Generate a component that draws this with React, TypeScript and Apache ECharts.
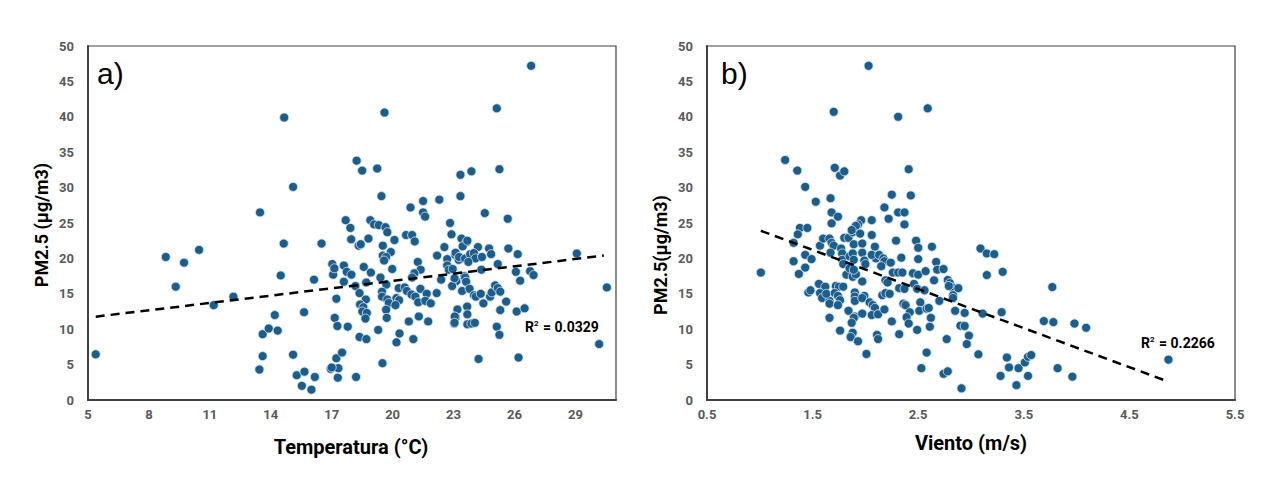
import React, { useEffect, useRef } from "react";
import * as echarts from "echarts";

const tempX = [5.38, 8.83, 9.32, 9.73, 10.47, 11.19, 12.16, 13.44, 13.6, 13.6, 13.9, 14.2, 14.34, 14.49, 14.64, 15.1, 15.28, 15.53, 15.64, 15.66, 16.0, 16.13, 16.17, 16.5, 16.95, 17.03, 17.07, 17.13, 17.15, 17.23, 17.28, 17.23, 17.3, 17.33, 17.51, 14.66, 15.1, 13.47, 19.6, 25.13, 18.23, 18.5, 19.24, 23.34, 23.88, 25.26, 19.45, 23.34, 20.88, 21.5, 22.3, 21.5, 21.6, 24.54, 25.67, 17.69, 17.92, 18.9, 19.09, 19.32, 19.65, 19.74, 17.96, 18.33, 18.43, 18.81, 20.09, 20.66, 20.96, 21.09, 19.52, 19.91, 19.52, 19.68, 19.58, 17.6, 17.74, 17.97, 17.6, 18.58, 18.93, 19.98, 19.4, 18.7, 18.17, 19.69, 21.24, 21.38, 21.07, 20.96, 22.19, 22.55, 22.69, 22.69, 22.77, 23.08, 23.25, 23.39, 23.64, 23.45, 23.62, 22.96, 23.14, 22.39, 22.93, 23.54, 23.42, 18.37, 18.68, 18.4, 18.56, 18.51, 18.73, 18.66, 19.48, 19.48, 19.74, 19.81, 19.68, 19.71, 20.19, 20.32, 20.14, 20.3, 20.6, 20.7, 20.93, 21.12, 21.26, 21.37, 21.68, 21.61, 21.88, 22.17, 21.29, 20.8, 21.75, 23.19, 23.1, 23.03, 23.67, 23.68, 23.68, 17.79, 19.29, 18.37, 18.71, 20.34, 20.19, 21.02, 19.5, 17.0, 18.2, 22.83, 22.9, 23.68, 24.2, 24.75, 24.85, 25.7, 26.16, 29.07, 30.55, 30.17, 23.1, 23.27, 23.57, 23.82, 24.0, 24.08, 24.4, 23.73, 25.18, 24.37, 26.07, 26.77, 26.94, 26.28, 23.05, 23.57, 23.62, 23.79, 24.01, 24.1, 24.34, 24.8, 24.88, 25.05, 25.18, 25.3, 24.47, 25.59, 25.3, 26.11, 26.5, 23.06, 23.05, 23.88, 24.05, 25.13, 25.26, 24.23, 26.2, 26.82];
const tempPM = [6.45, 20.2, 16.0, 19.4, 21.2, 13.4, 14.6, 4.3, 9.3, 6.2, 10.1, 12.0, 9.8, 17.6, 22.1, 6.4, 3.5, 2.0, 12.4, 4.0, 1.46, 17.0, 3.25, 22.1, 4.4, 19.2, 17.7, 18.6, 11.6, 14.3, 10.45, 5.9, 3.15, 4.5, 6.7, 39.9, 30.1, 26.5, 40.6, 41.2, 33.8, 32.4, 32.7, 31.8, 32.3, 32.6, 28.8, 28.8, 27.2, 28.1, 28.3, 26.5, 25.9, 26.4, 25.6, 25.4, 24.3, 25.4, 24.8, 24.7, 24.4, 23.7, 22.7, 21.8, 22.0, 22.8, 22.6, 23.3, 23.3, 22.4, 21.8, 20.9, 20.4, 20.2, 19.7, 19.0, 18.1, 17.7, 16.7, 18.8, 18.0, 18.5, 17.3, 16.6, 16.1, 16.3, 19.5, 18.4, 17.9, 17.3, 20.4, 21.6, 19.9, 19.0, 18.4, 20.5, 19.8, 22.8, 22.3, 21.7, 19.9, 18.5, 16.8, 17.0, 16.1, 17.5, 15.4, 15.1, 14.2, 13.5, 13.1, 12.5, 12.3, 11.5, 15.3, 14.6, 14.2, 13.7, 12.75, 11.6, 14.4, 14.1, 13.4, 15.8, 15.9, 15.4, 14.9, 14.6, 13.8, 15.7, 15.0, 14.0, 13.65, 15.1, 11.8, 11.1, 11.1, 12.8, 11.7, 10.8, 13.2, 12.1, 10.7, 10.35, 9.9, 8.9, 8.6, 9.4, 8.15, 8.6, 5.2, 4.6, 3.25, 25.0, 23.4, 22.5, 21.6, 21.4, 20.6, 21.4, 20.6, 20.7, 15.9, 7.9, 20.8, 20.2, 20.0, 20.6, 20.75, 20.0, 20.2, 19.5, 19.2, 18.4, 18.1, 18.2, 17.65, 16.85, 17.2, 17.3, 16.7, 15.7, 14.8, 14.6, 15.0, 14.6, 15.2, 16.2, 15.8, 15.3, 13.65, 13.9, 12.7, 12.5, 12.95, 11.8, 10.9, 10.8, 10.9, 10.35, 9.2, 5.8, 6.0, 47.2];

const windX = [2.03, 1.70, 2.59, 2.31, 1.24, 1.355, 1.71, 1.76, 1.80, 2.41, 1.43, 1.53, 1.67, 2.25, 2.43, 2.18, 1.68, 1.74, 2.22, 2.31, 2.37, 2.37, 1.96, 2.06, 1.93, 1.68, 1.38, 1.45, 1.36, 1.32, 1.32, 1.37, 1.43, 1.43, 1.49, 1.46, 1.48, 1.57, 1.60, 1.66, 1.68, 1.70, 1.67, 1.77, 1.78, 1.78, 1.79, 1.80, 1.84, 1.88, 1.91, 1.95, 1.89, 1.97, 1.85, 1.88, 1.89, 1.97, 1.99, 2.0, 2.06, 2.09, 2.1, 2.06, 2.13, 2.17, 2.18, 2.15, 2.24, 2.29, 2.34, 2.26, 2.31, 2.35, 2.48, 2.5, 2.5, 2.63, 2.67, 2.68, 2.74, 2.45, 2.5, 2.57, 2.65, 2.78, 2.8, 2.82, 2.88, 2.79, 2.83, 2.83, 2.85, 2.94, 2.9, 2.94, 2.98, 2.96, 2.77, 2.58, 2.53, 2.74, 2.78, 2.91, 1.01, 1.56, 1.62, 1.57, 1.59, 1.66, 1.66, 1.63, 1.72, 1.75, 1.79, 1.71, 1.74, 1.76, 1.74, 1.66, 1.76, 1.82, 1.85, 1.88, 1.91, 1.89, 1.97, 1.9, 1.9, 1.9, 1.99, 1.97, 1.84, 1.9, 1.89, 1.87, 1.97, 1.88, 1.86, 1.93, 2.01, 2.04, 2.07, 2.09, 2.06, 2.12, 2.11, 2.12, 2.18, 2.16, 2.19, 2.23, 2.19, 2.21, 2.25, 2.32, 2.32, 2.37, 2.36, 2.38, 2.42, 2.39, 2.41, 2.46, 2.49, 2.56, 2.52, 2.51, 2.58, 2.6, 2.62, 2.61, 2.49, 2.70, 3.07, 3.09, 3.15, 3.22, 3.15, 3.3, 3.11, 3.29, 3.77, 3.69, 3.78, 3.98, 4.09, 3.34, 3.36, 3.45, 3.28, 3.51, 3.54, 3.57, 3.54, 3.43, 3.82, 3.96, 4.87, 1.87];
const windPM = [47.2, 40.7, 41.2, 40.0, 33.9, 32.4, 32.8, 31.7, 32.3, 32.6, 30.1, 28.0, 28.5, 29.0, 28.9, 27.2, 26.5, 25.9, 25.6, 26.5, 26.5, 24.8, 25.4, 25.4, 24.8, 24.95, 24.3, 24.3, 23.4, 22.2, 19.6, 17.8, 20.5, 18.7, 19.9, 15.2, 15.5, 21.8, 22.8, 22.8, 22.2, 21.8, 20.8, 21.4, 20.7, 19.8, 19.2, 22.9, 22.9, 23.7, 24.6, 23.5, 22.0, 22.1, 20.3, 20.7, 19.8, 20.8, 19.7, 19.2, 23.3, 21.65, 20.0, 20.5, 20.5, 20.0, 19.6, 18.9, 19.4, 22.5, 20.1, 18.0, 18.0, 18.0, 22.5, 21.5, 19.9, 21.65, 19.5, 18.4, 18.5, 17.9, 17.7, 18.2, 16.9, 16.95, 16.5, 15.9, 15.8, 16.1, 14.8, 14.4, 12.6, 12.3, 10.5, 10.45, 9.1, 7.9, 8.6, 6.7, 4.5, 3.7, 4.05, 1.65, 18.0, 16.4, 16.0, 15.1, 14.4, 14.0, 13.6, 15.0, 16.1, 16.0, 16.0, 15.1, 14.7, 14.1, 13.4, 11.6, 9.8, 17.7, 18.6, 17.4, 17.75, 18.4, 16.75, 15.2, 14.6, 14.0, 14.7, 14.4, 12.6, 11.8, 11.6, 10.9, 12.2, 9.5, 8.9, 8.3, 6.5, 13.8, 13.4, 13.0, 12.0, 12.1, 9.2, 8.6, 12.8, 14.8, 15.1, 15.0, 16.9, 16.6, 11.1, 9.3, 15.8, 15.7, 13.6, 13.4, 12.4, 11.7, 10.8, 16.4, 15.7, 15.5, 13.8, 12.6, 12.9, 13.0, 11.6, 10.35, 9.9, 14.0, 6.45, 21.4, 20.7, 20.6, 17.65, 18.1, 12.2, 12.4, 15.95, 11.15, 11.0, 10.8, 10.2, 6.0, 4.6, 4.5, 3.4, 5.3, 6.1, 6.35, 3.4, 2.1, 4.5, 3.3, 5.7, 24.0];

const tempTrendX = [5.38, 30.4];
const tempTrendY = [11.77, 20.4];
const windTrendX = [1.01, 4.85];
const windTrendY = [23.9, 2.7];

const pmTicks = { min: 0, max: 50, interval: 5 };
const tempAxis = { min: 5, max: 31, interval: 3 };
const windAxis = { min: 0.5, max: 5.5, interval: 0.5 };

const zip = (a: number[], b: number[]) => a.map((v, i) => [v, b[i]]);

export default function App() {
  const ref = useRef<HTMLDivElement>(null);
  useEffect(() => {
    if (!ref.current) return;
    const chart = echarts.init(ref.current, undefined, { renderer: "svg" });
    const font = "Roboto, 'Liberation Sans', Arial, sans-serif";
    const tickLabel = {
      color: "#595959",
      fontWeight: "bold" as const,
      fontSize: 13,
      fontFamily: font,
    };
    const axisLineStyle = { show: true, lineStyle: { color: "#404040", width: 2 } };
    const yAxisBase = {
      type: "value" as const,
      ...pmTicks,
      axisLine: axisLineStyle,
      axisTick: { show: false },
      splitLine: { show: false },
      axisLabel: { ...tickLabel, margin: 14 },
    };
    const marker = {
      type: "scatter" as const,
      symbolSize: 9,
      itemStyle: { color: "#1b5e8c", borderColor: "#d8e6f2", borderWidth: 0.8, opacity: 1 },
    };
    const trend = {
      type: "line" as const,
      symbol: "none",
      lineStyle: { color: "#000", width: 2.5, type: [9, 6] as any },
      z: 5,
    };
    const titleStyle = { fill: "#000", font: `bold 18px ${font}` };
    const r2Rich = {
      a: { fontSize: 14, fontWeight: "bold", fontFamily: font, fill: "#000" },
      s: { fontSize: 8, fontWeight: "bold", fontFamily: font, fill: "#000", verticalAlign: "top", padding: [0, 1, 7, 0] },
    };
    chart.setOption({
      animation: false,
      grid: [
        { left: 88, top: 46, width: 528, height: 354, show: true, borderColor: "#404040", borderWidth: 1.2 },
        { left: 707, top: 46, width: 528, height: 354, show: true, borderColor: "#404040", borderWidth: 1.2 },
      ],
      xAxis: [
        {
          gridIndex: 0,
          type: "value",
          ...tempAxis,
          axisLine: axisLineStyle,
          axisTick: { show: false },
          splitLine: { show: false },
          axisLabel: {
            ...tickLabel,
            margin: 8,
            showMaxLabel: false,
            formatter: (v: number) => (v === tempAxis.max ? "" : String(v)),
          },
        },
        {
          gridIndex: 1,
          type: "value",
          ...windAxis,
          axisLine: axisLineStyle,
          axisTick: { show: false },
          splitLine: { show: false },
          axisLabel: {
            ...tickLabel,
            margin: 8,
            formatter: (v: number) => (Math.abs(v % 1 - 0.5) < 1e-6 ? v.toFixed(1) : ""),
          },
        },
      ],
      yAxis: [
        { gridIndex: 0, ...yAxisBase },
        { gridIndex: 1, ...yAxisBase },
      ],
      series: [
        { ...marker, xAxisIndex: 0, yAxisIndex: 0, data: zip(tempX, tempPM) },
        { ...trend, xAxisIndex: 0, yAxisIndex: 0, data: zip(tempTrendX, tempTrendY) },
        { ...marker, xAxisIndex: 1, yAxisIndex: 1, data: zip(windX, windPM) },
        { ...trend, xAxisIndex: 1, yAxisIndex: 1, data: zip(windTrendX, windTrendY) },
      ],
      graphic: [
        { type: "text", left: 97, top: 58, style: { text: "a)", fill: "#000", font: `30px 'Liberation Sans', Arial, sans-serif` } },
        { type: "text", left: 721, top: 58, style: { text: "b)", fill: "#000", font: `30px 'Liberation Sans', Arial, sans-serif` } },
        {
          type: "text", x: 41, y: 225, rotation: Math.PI / 2,
          style: { text: "PM2.5 (µg/m3)", ...titleStyle, align: "center", verticalAlign: "middle" },
        },
        {
          type: "text", x: 660, y: 255, rotation: Math.PI / 2,
          style: { text: "PM2.5(µg/m3)", ...titleStyle, align: "center", verticalAlign: "middle" },
        },
        {
          type: "text", x: 351, y: 447,
          style: { text: "Temperatura (°C)", fill: "#000", font: `bold 20px ${font}`, align: "center", verticalAlign: "middle" },
        },
        {
          type: "text", x: 971, y: 443,
          style: { text: "Viento (m/s)", fill: "#000", font: `bold 20px ${font}`, align: "center", verticalAlign: "middle" },
        },
        {
          type: "text", x: 525, y: 327,
          style: { text: "{a|R}{s|2}{a| = 0.0329}", verticalAlign: "middle", rich: r2Rich },
        },
        {
          type: "text", x: 1141, y: 343,
          style: { text: "{a|R}{s|2}{a| = 0.2266}", verticalAlign: "middle", rich: r2Rich },
        },
      ],
    });
    return () => chart.dispose();
  }, []);
  return (
    <div
      ref={ref}
      style={{ position: "fixed", left: 0, top: 0, width: 1263, height: 481, background: "#fff" }}
    />
  );
}
